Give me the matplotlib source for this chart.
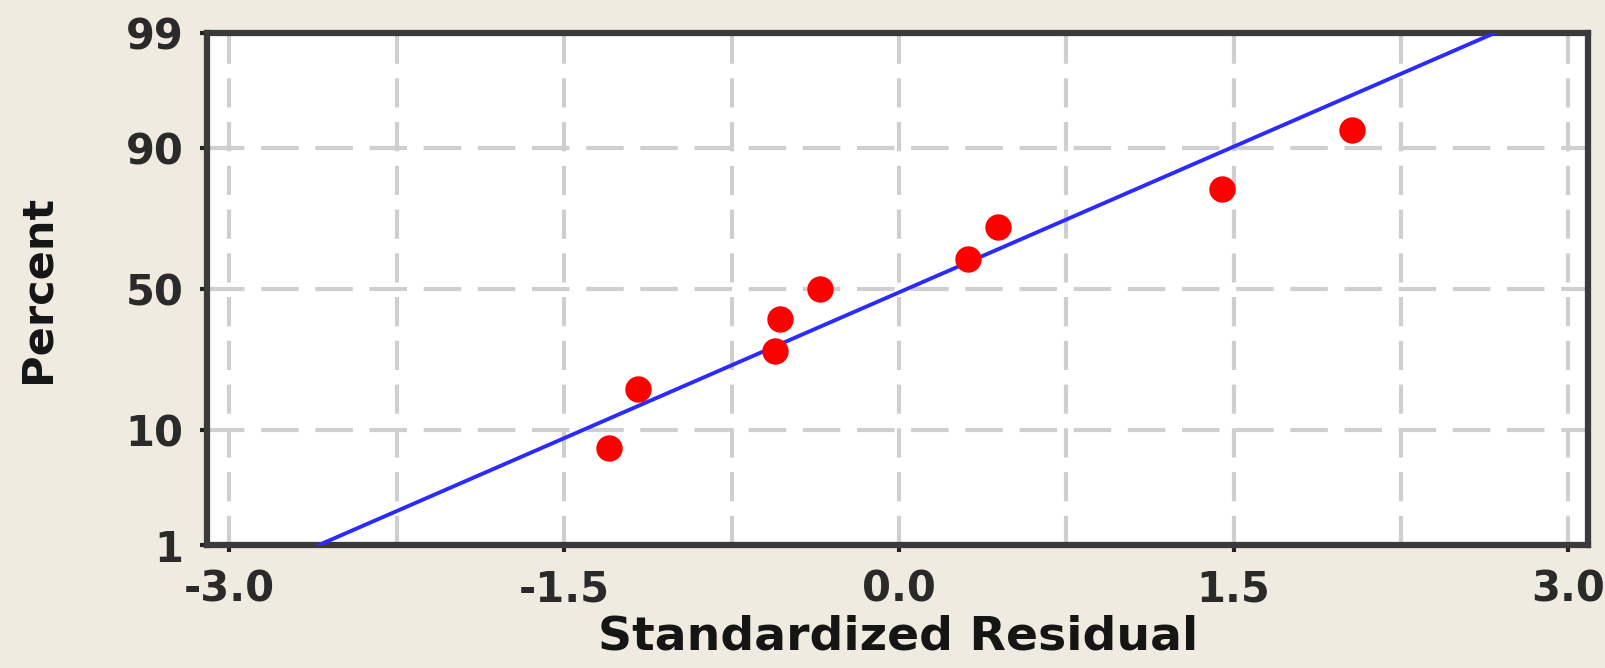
import numpy as np
import matplotlib
matplotlib.use('Agg')
import matplotlib.pyplot as plt
from statistics import NormalDist

# data
resid = np.array([-1.30, -1.17, -0.554, -0.531, -0.352, 0.308, 0.446, 1.446, 2.033])
percent = np.array([7.4, 18.1, 28.7, 39.4, 50.0, 60.6, 71.3, 81.9, 92.6])
yticks = [1, 10, 50, 90, 99]
xticks = [-3.0, -1.5, 0.0, 1.5, 3.0]
xgrid = [-3.0, -2.25, -1.5, -0.75, 0.0, 0.75, 1.5, 2.25, 3.0]

nd = NormalDist()
def z(p):
    return np.array([nd.inv_cdf(v / 100.0) for v in np.atleast_1d(p)])

bg = '#efebe0'
fig = plt.figure(figsize=(16.06, 6.68), dpi=100, facecolor=bg)
ax = fig.add_axes([0.129, 0.184, 0.860, 0.767])
ax.set_facecolor('white')

# grid
for gx in xgrid:
    ax.axvline(gx, color='#cfcfcf', lw=3, ls=(0, (7, 3.5)), zorder=1)
for gy in z(yticks):
    ax.axhline(gy, color='#cfcfcf', lw=3, ls=(0, (9, 4)), zorder=1)

# fitted normal line
mu = resid.mean()
sd = resid.std(ddof=1)
pl = z([1, 99])
ax.plot(mu + sd * pl, pl, color='#2b2bff', lw=2.8, zorder=3)

# points
ax.plot(resid, z(percent), 'o', color='#ff0000', ms=19, mec='none', zorder=4)

ax.set_xlim(-3.1, 3.09)
ax.set_ylim(z(1)[0], z(99)[0])
ax.set_xticks(xticks)
ax.set_xticklabels([f'{v:.1f}' for v in xticks])
ax.set_yticks(z(yticks))
ax.set_yticklabels([str(v) for v in yticks])

for s in ax.spines.values():
    s.set_color('#3a3a3a')
    s.set_linewidth(4.5)

ax.tick_params(axis='both', direction='out', length=5, width=3, color='#222222',
               labelsize=30, labelcolor='#2a2a2a')
for lab in ax.get_xticklabels() + ax.get_yticklabels():
    lab.set_fontweight('bold')
ax.tick_params(axis='y', pad=12)
ax.tick_params(axis='x', pad=12)

ax.set_xlabel('Standardized Residual', fontsize=34, fontweight='bold', color='#151515', labelpad=3)
ax.set_ylabel('Percent', fontsize=31, fontweight='bold', color='#151515', labelpad=48)

fig.savefig('out.png', dpi=100, facecolor=bg)
